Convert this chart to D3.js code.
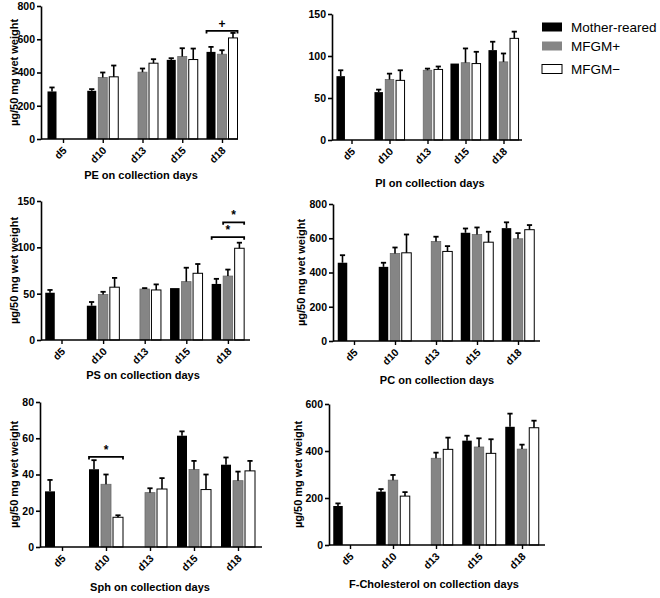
<!DOCTYPE html>
<html><head><meta charset="utf-8">
<script src="https://cdn.jsdelivr.net/npm/d3@7"></script>
<style>body{margin:0;background:#fff}svg{display:block}text{font-family:"Liberation Sans",Arial,sans-serif}</style>
</head><body>
<script>
const days = ["d5","d10","d13","d15","d18"];
const groups = ["Mother-reared","MFGM+","MFGM\u2212"];
const groupFill = ["#000000","#858585","#ffffff"];
const yLabel = "\u00b5g/50 mg wet weight";

// PE
const peMother = [286, 290, null, 476, 524], peMotherSE = [24, 10, null, 10, 30];
const pePlus = [null, 370, 402, 496, 510], pePlusSE = [null, 30, 22, 50, 24];
const peMinus = [null, 374, 456, 478, 608], peMinusSE = [null, 68, 24, 66, 30];
const peTicks = [0, 200, 400, 600, 800];
// PI
const piMother = [76, 57, null, 91, 107], piMotherSE = [7, 3, null, 0, 10];
const piPlus = [null, 72, 83, 92, 93], piPlusSE = [null, 7, 2, 17, 10];
const piMinus = [null, 71, 84, 91, 121], piMinusSE = [null, 12, 3.5, 14, 8];
const piTicks = [0, 50, 100, 150];
// PS
const psMother = [51, 37, null, 56, 60.5], psMotherSE = [3, 4, null, 0, 5.5];
const psPlus = [null, 49, 55, 63, 69], psPlusSE = [null, 3, 1, 15, 7];
const psMinus = [null, 57, 54, 72, 99], psMinusSE = [null, 10, 6, 10, 6];
const psTicks = [0, 50, 100, 150];
// PC
const pcMother = [457, 433, null, 632, 659], pcMotherSE = [44, 24, null, 25, 34];
const pcPlus = [null, 511, 581, 622, 597], pcPlusSE = [null, 35, 28, 41, 33];
const pcMinus = [null, 515, 523, 577, 650], pcMinusSE = [null, 107, 31, 61, 27];
const pcTicks = [0, 200, 400, 600, 800];
// Sph
const sphMother = [30.7, 42.9, null, 61.4, 45.4], sphMotherSE = [6.3, 5, null, 2.4, 4];
const sphPlus = [null, 34.6, 30, 42.8, 36.6], sphPlusSE = [null, 5.4, 2.4, 4.7, 5];
const sphMinus = [null, 16.4, 32, 31.7, 42], sphMinusSE = [null, 1.1, 6, 8.3, 5.5];
const sphTicks = [0, 20, 40, 60, 80];
// F-Cholesterol
const fcMother = [166, 227, null, 444, 503], fcMotherSE = [11, 11, null, 21, 56];
const fcPlus = [null, 276, 369, 417, 408], fcPlusSE = [null, 22, 24, 37, 19];
const fcMinus = [null, 208, 407, 390, 499], fcMinusSE = [null, 17, 50, 60, 30];
const fcTicks = [0, 200, 400, 600];

const panels = [
  {title:"PE on collection days", series:[peMother,pePlus,peMinus], se:[peMotherSE,pePlusSE,peMinusSE], ticks:peTicks,
   brackets:[{day:"d18", from:0, to:2, value:650, label:"+"}], ylab:true,
   L:{x0:41, top:6, bottom:139, c0:63, step:39.75, bw:9, bstep:11, end:238, tx:141, ty:179, lx:14}},
  {title:"PI on collection days", series:[piMother,piPlus,piMinus], se:[piMotherSE,piPlusSE,piMinusSE], ticks:piTicks,
   brackets:[], ylab:false,
   L:{x0:332, top:14, bottom:140, c0:351.5, step:38, bw:8.5, bstep:10.8, end:522, tx:430, ty:187, lx:303}},
  {title:"PS on collection days", series:[psMother,psPlus,psMinus], se:[psMotherSE,psPlusSE,psMinusSE], ticks:psTicks,
   brackets:[{day:"d18", from:0, to:2, value:111, label:"*"},{day:"d18", from:1, to:2, value:127, label:"*"}], ylab:true,
   L:{x0:41, top:201, bottom:340, c0:61.5, step:41.6, bw:9.5, bstep:11.5, end:250, tx:143, ty:379, lx:14}},
  {title:"PC on collection days", series:[pcMother,pcPlus,pcMinus], se:[pcMotherSE,pcPlusSE,pcMinusSE], ticks:pcTicks,
   brackets:[], ylab:true,
   L:{x0:333, top:204, bottom:341, c0:354, step:41, bw:9.5, bstep:11.5, end:540, tx:437, ty:384, lx:301}},
  {title:"Sph on collection days", series:[sphMother,sphPlus,sphMinus], se:[sphMotherSE,sphPlusSE,sphMinusSE], ticks:sphTicks,
   brackets:[{day:"d10", from:0, to:2, value:49.7, label:"*"}], ylab:true,
   L:{x0:40, top:402, bottom:547, c0:62, step:44, bw:10, bstep:12, end:262, tx:150, ty:591, lx:14}},
  {title:"F-Cholesterol on collection days", series:[fcMother,fcPlus,fcMinus], se:[fcMotherSE,fcPlusSE,fcMinusSE], ticks:fcTicks,
   brackets:[], ylab:true,
   L:{x0:329, top:404, bottom:545, c0:350, step:43, bw:9.5, bstep:12, end:545, tx:434, ty:588, lx:298}}
];

const svg = d3.select("body").append("svg").attr("width",660).attr("height",598);

panels.forEach(p => {
  const L = p.L;
  const ymax = p.ticks[p.ticks.length-1];
  const y = d3.scaleLinear().domain([0, ymax]).range([L.bottom, L.top]);
  const x = d3.scalePoint().domain(days).range([L.c0, L.c0 + 4*L.step]);
  const g = svg.append("g");
  const off = i => (i-1)*L.bstep;

  // bars
  p.series.forEach((vals, gi) => {
    days.forEach((d, di) => {
      const v = vals[di];
      if (v == null) return;
      const cx = x(d) + off(gi);
      g.append("rect")
        .attr("x", cx - L.bw/2).attr("y", y(v))
        .attr("width", L.bw).attr("height", L.bottom - y(v))
        .attr("fill", groupFill[gi])
        .attr("stroke", gi===2 ? "#000" : (gi===1 ? "#6a6a6a" : "none"))
        .attr("stroke-width", gi===2 ? 1 : 0.8);
      const se = p.se[gi][di];
      if (se) {
        g.append("line").attr("x1",cx).attr("x2",cx).attr("y1",y(v)).attr("y2",y(v+se))
          .attr("stroke","#000").attr("stroke-width",1.6);
        g.append("line").attr("x1",cx-2.6).attr("x2",cx+2.6).attr("y1",y(v+se)).attr("y2",y(v+se))
          .attr("stroke","#000").attr("stroke-width",1.8);
      }
    });
  });

  // y axis
  const ya = g.append("g").attr("transform",`translate(${L.x0},0)`)
    .call(d3.axisLeft(y).tickValues(p.ticks).tickSize(4).tickSizeOuter(0).tickPadding(2));
  ya.select(".domain").attr("stroke-width",1.6);
  ya.selectAll(".tick line").attr("stroke-width",1.6);
  ya.selectAll(".tick text").attr("font-size","10.5px").attr("font-weight","bold").attr("fill","#000")
    .style("font-family",'"Liberation Sans",Arial,sans-serif');

  // x axis
  const xa = g.append("g").attr("transform",`translate(0,${L.bottom})`)
    .call(d3.axisBottom(x).tickSize(4).tickSizeOuter(0).tickPadding(0));
  xa.select(".domain").remove();
  xa.selectAll(".tick line").attr("stroke-width",1.4);
  xa.selectAll(".tick text").attr("font-size","10.5px").attr("font-weight","bold").attr("fill","#000")
    .style("font-family",'"Liberation Sans",Arial,sans-serif')
    .attr("text-anchor","end").attr("dy",null).attr("y",null)
    .attr("transform","translate(4,12) rotate(-45)");
  g.append("line").attr("x1",L.x0).attr("x2",L.end).attr("y1",L.bottom).attr("y2",L.bottom)
    .attr("stroke","#000").attr("stroke-width",1.6);

  // brackets
  p.brackets.forEach(b => {
    const xl = x(b.day) + off(b.from) - L.bw/2;
    const xr = x(b.day) + off(b.to) + L.bw/2;
    const yy = y(b.value);
    g.append("path").attr("d",`M${xl},${yy+2.5}V${yy}H${xr}V${yy+2.5}`)
      .attr("fill","none").attr("stroke","#000").attr("stroke-width",1.8);
    g.append("text").attr("x",(xl+xr)/2).attr("y",yy-3).attr("text-anchor","middle")
      .attr("font-size","12px").attr("font-weight","bold").text(b.label);
  });

  // title
  g.append("text").attr("x",L.tx).attr("y",L.ty).attr("text-anchor","middle")
    .attr("font-size","11px").attr("font-weight","bold").text(p.title);
  // y label
  if (p.ylab) {
    const cy = (L.top + L.bottom)/2;
    g.append("text").attr("transform",`translate(${L.lx},${cy}) rotate(-90)`)
      .attr("text-anchor","middle").attr("dy","0.35em")
      .attr("font-size","11px").attr("font-weight","bold").text(yLabel);
  }
});

// legend
const lg = svg.append("g");
const legY = [27, 46, 69];
groups.forEach((name, i) => {
  lg.append("rect").attr("x",542).attr("y",legY[i]-4.5).attr("width",20).attr("height",9)
    .attr("fill",groupFill[i]).attr("stroke", i===2 ? "#000" : "none").attr("stroke-width",1);
  lg.append("text").attr("x",571).attr("y",legY[i]).attr("dy","0.35em")
    .attr("font-size","13.5px").text(name);
});
</script>
</body></html>
